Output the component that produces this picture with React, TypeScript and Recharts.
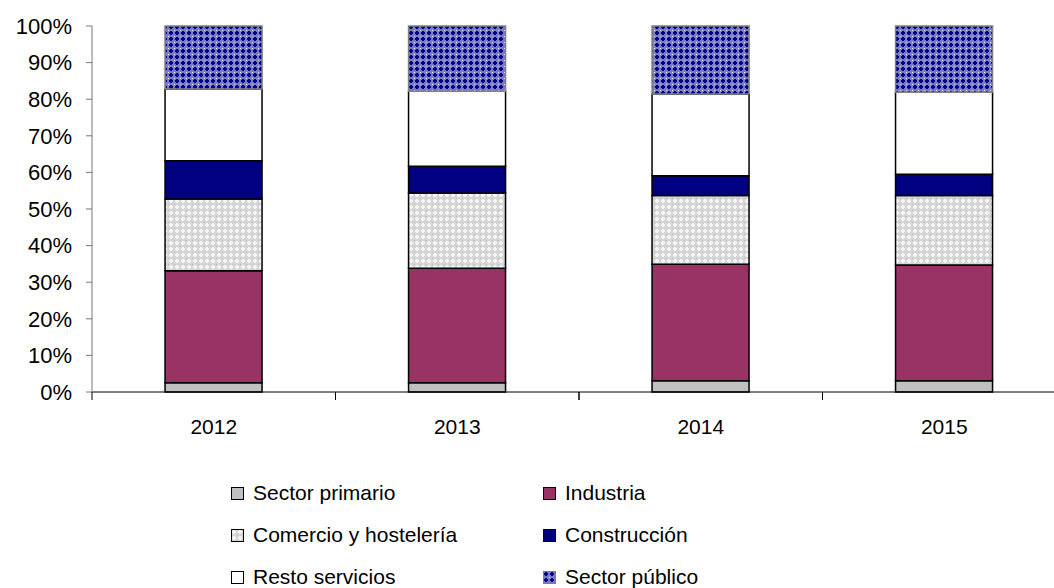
import React from "react";
import { BarChart, Bar, XAxis, YAxis, Legend } from "recharts";

const years = ["2012", "2013", "2014", "2015"];
const sectorPrimario = [2.5, 2.5, 3.1, 3.1];
const industria = [30.6, 31.3, 31.8, 31.6];
const comercio = [19.6, 20.6, 18.8, 19.0];
const construccion = [10.5, 7.3, 5.4, 5.8];
const restoServicios = [19.6, 20.5, 22.3, 22.4];
const sectorPublico = [17.2, 17.8, 18.6, 18.1];
const yTicks = [0, 10, 20, 30, 40, 50, 60, 70, 80, 90, 100];

const FONT = '"Liberation Sans", Arial, sans-serif';
const CHART_W = 1066;
const CHART_H = 588;
const Y_AXIS_W = 92;

const series = [
  { key: "primario", name: "Sector primario", values: sectorPrimario, fill: "#c0c0c0", stroke: "#000" },
  { key: "industria", name: "Industria", values: industria, fill: "#993366", stroke: "#000" },
  { key: "comercio", name: "Comercio y hostelería", values: comercio, fill: "url(#patComercio)", stroke: "#000" },
  { key: "construccion", name: "Construcción", values: construccion, fill: "#000080", stroke: "#000" },
  { key: "resto", name: "Resto servicios", values: restoServicios, fill: "#ffffff", stroke: "#000" },
  { key: "publico", name: "Sector público", values: sectorPublico, fill: "url(#patPublico)", stroke: "#808080" },
];

const data = years.map((year, i) => {
  const row: Record<string, string | number> = { year };
  series.forEach((s) => {
    row[s.key] = s.values[i];
  });
  return row;
});

const halfBand = (CHART_W - Y_AXIS_W) / years.length / 2;

const YearTick = (props: any) => {
  const { x, y, payload } = props;
  return (
    <g>
      <line x1={x - halfBand} x2={x - halfBand} y1={y - 8} y2={y} stroke="#000" />
      <line x1={x + halfBand} x2={x + halfBand} y1={y - 8} y2={y} stroke="#000" />
      <text x={x} y={y + 34} textAnchor="middle" fontSize={21} fontFamily={FONT} fill="#000">
        {payload.value}
      </text>
    </g>
  );
};

const LegendBox = () => (
  <div
    style={{
      display: "grid",
      gridTemplateColumns: "312px 312px",
      fontFamily: FONT,
      fontSize: 21,
      color: "#000",
    }}
  >
    {series.map((s) => (
      <div key={s.key} style={{ display: "flex", alignItems: "center", height: 42 }}>
        <svg width={13} height={13} style={{ marginRight: 9 }}>
          <rect x={0.5} y={0.5} width={12} height={12} fill={s.fill} stroke={s.key === "publico" ? "#808080" : "#000"} />
        </svg>
        <span>{s.name}</span>
      </div>
    ))}
  </div>
);

export default function App() {
  return (
    <div
      style={{
        position: "absolute",
        left: 0,
        top: 0,
        width: 1054,
        height: 588,
        overflow: "hidden",
        background: "#fff",
      }}
    >
      <BarChart
        width={CHART_W}
        height={CHART_H}
        data={data}
        margin={{ top: 26, right: 0, bottom: 136, left: 0 }}
        barCategoryGap="30%"
      >
        <defs>
          <pattern id="patComercio" width={6} height={6} patternUnits="userSpaceOnUse">
            <rect width={6} height={6} fill="#d6d6d6" />
            <rect x={2} y={1} width={2} height={4} fill="#f4f4f4" />
            <rect x={1} y={2} width={4} height={2} fill="#f4f4f4" />
            <rect x={0} y={0} width={1} height={1} fill="#bcbcbc" />
          </pattern>
          <pattern id="patPublico" width={6} height={6} patternUnits="userSpaceOnUse">
            <rect width={6} height={6} fill="#7a7acc" />
            <rect x={2} y={1} width={2} height={4} fill="#000080" />
            <rect x={1} y={2} width={4} height={2} fill="#000080" />
            <rect x={0} y={0} width={1} height={1} fill="#ffffff" />
            <rect x={3} y={3} width={0.01} height={0.01} fill="#ffffff" />
          </pattern>
        </defs>
        <XAxis
          dataKey="year"
          height={60}
          axisLine={{ stroke: "#000" }}
          tickLine={false}
          tickSize={8}
          tickMargin={0}
          tick={<YearTick />}
          interval={0}
        />
        <YAxis
          width={Y_AXIS_W}
          domain={[0, 100]}
          ticks={yTicks}
          tickFormatter={(v: number) => `${v}%`}
          axisLine={{ stroke: "#777" }}
          tickLine={{ stroke: "#777" }}
          tickSize={6}
          tickMargin={14}
          tick={{ fontSize: 22, fontFamily: FONT, fill: "#000" }}
          interval={0}
        />
        {series.map((s) => (
          <Bar
            key={s.key}
            dataKey={s.key}
            name={s.name}
            stackId="a"
            fill={s.fill}
            stroke={s.stroke}
            strokeWidth={1.5}
            isAnimationActive={false}
          />
        ))}
        <Legend
          layout="vertical"
          align="center"
          verticalAlign="middle"
          wrapperStyle={{ top: 472, left: 231, width: 640 }}
          content={() => <LegendBox />}
        />
      </BarChart>
    </div>
  );
}
